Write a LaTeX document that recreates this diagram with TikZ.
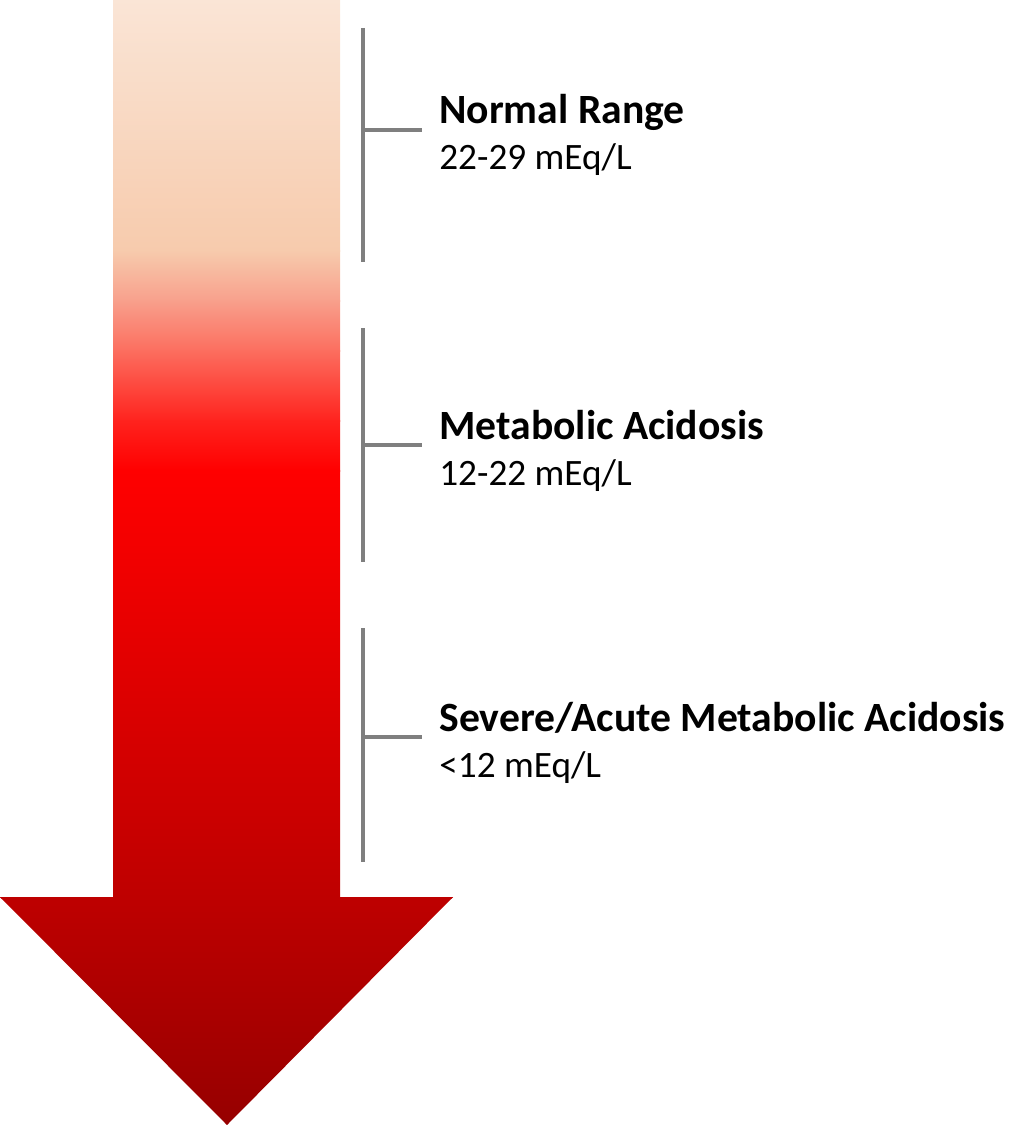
\documentclass[tikz,border=0pt]{standalone}
\usepackage{fontspec}
\setmainfont{Carlito}
\usetikzlibrary{positioning}

\definecolor{peachA}{RGB}{250,229,214}
\definecolor{peachB}{RGB}{247,203,173}
\definecolor{salmonA}{RGB}{248,160,140}
\definecolor{salmonB}{RGB}{252,110,95}
\definecolor{redA}{RGB}{255,35,30}
\definecolor{redB}{RGB}{255,0,0}
\definecolor{redC}{RGB}{190,0,0}
\definecolor{redD}{RGB}{150,0,0}
\definecolor{brgray}{RGB}{127,127,127}

\tikzset{
  bracketline/.style={draw=brgray, line width=2pt},
  titletext/.style={anchor=base west, inner sep=0pt, font=\fontsize{23.7}{28}\selectfont\bfseries},
  rangetext/.style={anchor=base west, inner sep=0pt, font=\fontsize{21.2}{25}\selectfont},
}

\begin{document}
\begin{tikzpicture}[x=0.02cm, y=-0.02cm]
    \useasboundingbox (0,0) rectangle (1031,1125);
    % the arrow, shaded top to bottom
    \begin{scope}
        \clip (113,0) -- (340,0) -- (340,897) -- (453,897) -- (227,1125) -- (0,897) -- (113,897) -- cycle;
        \shade[top color=peachA, bottom color=peachB] (0,-1) rectangle (453,251);
        \shade[top color=peachB, bottom color=salmonA] (0,250) rectangle (453,301);
        \shade[top color=salmonA, bottom color=salmonB] (0,300) rectangle (453,351);
        \shade[top color=salmonB, bottom color=redA] (0,350) rectangle (453,421);
        \shade[top color=redA, bottom color=redB] (0,420) rectangle (453,471);
        \shade[top color=redB, bottom color=redC] (0,470) rectangle (453,898);
        \shade[top color=redC, bottom color=redD] (0,897) rectangle (453,1126);
    \end{scope}

    % normal range
    \coordinate (b1top) at (363,28);
    \coordinate (b1bot) at (363,262);
    \coordinate (b1mid) at (363,130);
    \coordinate (k1) at (422,130);
    \draw[bracketline] (b1top) -- (b1bot);
    \draw[bracketline] (b1mid) -- (k1);
    \node[titletext] (t1) at (439,124) {Normal Range};
    \node[rangetext] (r1) at (439,170) {22-29 mEq/L};

    % metabolic acidosis
    \coordinate (b2top) at (363,328);
    \coordinate (b2bot) at (363,562);
    \coordinate (b2mid) at (363,445);
    \coordinate (k2) at (422,445);
    \draw[bracketline] (b2top) -- (b2bot);
    \draw[bracketline] (b2mid) -- (k2);
    \node[titletext] (t2) at (439,439) {Metabolic Acidosis};
    \node[rangetext] (r2) at (439,485) {12-22 mEq/L};

    % severe / acute
    \coordinate (b3top) at (363,628);
    \coordinate (b3bot) at (363,862);
    \coordinate (b3mid) at (363,737);
    \coordinate (k3) at (422,737);
    \draw[bracketline] (b3top) -- (b3bot);
    \draw[bracketline] (b3mid) -- (k3);
    \node[titletext] (t3) at (439,731) {Severe/Acute Metabolic Acidosis};
    \node[rangetext] (r3) at (439,777) {<12 mEq/L};
\end{tikzpicture}
\end{document}
